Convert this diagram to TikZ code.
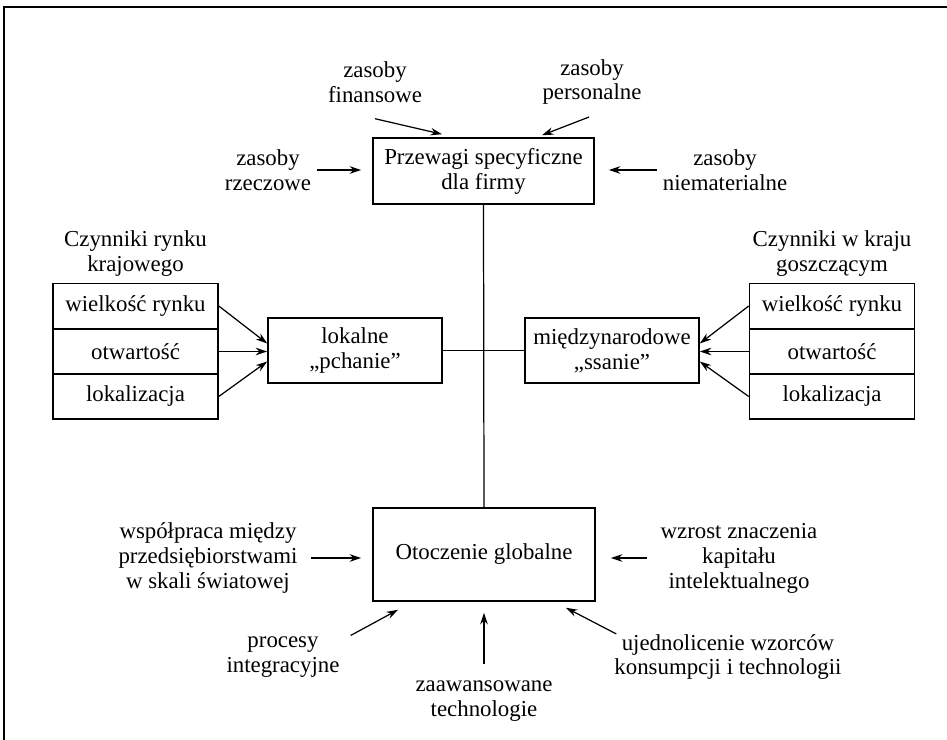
\documentclass[tikz,border=0pt]{standalone}
\usepackage{fontspec}
\setmainfont{Liberation Serif}
\usepackage{tikz}
\usetikzlibrary{arrows.meta}

\begin{document}
\begin{tikzpicture}[x=0.02cm,y=-0.02cm,
      box/.style={rectangle,draw,line width=0.9pt,fill=white,
                  minimum width=4.42cm,minimum height=1.32cm,
                  inner sep=2pt,align=center},
      cell/.style={rectangle,draw,line width=0.9pt,fill=white,
                   minimum width=3.3cm,minimum height=0.906cm,inner sep=0pt},
      lbl/.style={align=center},
      arr/.style={-{Stealth[length=2.3mm,width=1.5mm]},line width=0.7pt},
      every node/.style={font=\fontsize{13}{14.2}\selectfont}]
    \useasboundingbox (0,0) rectangle (947,740);
    %% ── Frame ───────────────────────────────────────────────
    \draw[line width=0.7pt] (4,740) -- (4,7) -- (947,7);
    %% ── Main boxes ──────────────────────────────────────────
    \node[box]  (firm) at (483.5,171) {Przewagi specyficzne\\dla firmy};
    \node[box,minimum width=3.48cm,minimum height=1.3cm]
                (push) at (355,350.5) {lokalne\\,,pchanie''};
    \node[box,minimum width=3.48cm,minimum height=1.3cm]
                (pull) at (612,350.5) {międzynarodowe\\,,ssanie''};
    \node[box,minimum width=4.44cm,minimum height=1.86cm]
                (glob) at (484,554.5) {Otoczenie globalne};
    %% ── Axes ────────────────────────────────────────────────
    \draw[line width=0.7pt] (firm.south) -- (glob.north);
    \draw[line width=0.7pt] (push.east) -- (pull.west);
    %% ── Left stack ──────────────────────────────────────────
    \node[lbl]  (home) at (135.5,254) {Czynniki rynku\\krajowego};
    \node[cell] (hsize) at (135.5,306)   {wielkość rynku};
    \node[cell] (hopen) at (135.5,351.5) {otwartość};
    \node[cell] (hloc)  at (135.5,396.5) {lokalizacja};
    \draw[arr] (hsize.east) -- ([yshift=0.14cm]push.west);
    \draw[arr] (hopen.east) -- (push.west |- hopen.east);
    \draw[arr] (hloc.east)  -- ([yshift=-0.22cm]push.west);
    %% ── Right stack ─────────────────────────────────────────
    \node[lbl]  (host) at (832,254) {Czynniki w kraju\\goszczącym};
    \node[cell] (gsize) at (832,306)   {wielkość rynku};
    \node[cell] (gopen) at (832,351.5) {otwartość};
    \node[cell] (gloc)  at (832,396.5) {lokalizacja};
    \draw[arr] (gsize.west) -- ([yshift=0.14cm]pull.east);
    \draw[arr] (gopen.west) -- (pull.east |- gopen.west);
    \draw[arr] (gloc.west)  -- ([yshift=-0.22cm]pull.east);
    %% ── Resources ───────────────────────────────────────────
    \node[lbl] (fin)   at (375,82)  {zasoby\\finansowe};
    \node[lbl] (pers)  at (592,82)  {zasoby\\personalne};
    \node[lbl] (thing) at (268,170) {zasoby\\rzeczowe};
    \node[lbl] (immat) at (725,170) {zasoby\\niematerialne};
    \draw[arr] ([yshift=-0.2cm]fin.south) -- ([xshift=-0.83cm,yshift=0.06cm]firm.north);
    \draw[arr] ([xshift=-0.06cm,yshift=-0.12cm]pers.south) -- ([xshift=1.17cm,yshift=0.04cm]firm.north);
    \draw[arr] (thing.east) -- ([xshift=-0.22cm]firm.west |- thing.east);
    \draw[arr] (immat.west) -- ([xshift=0.28cm]firm.east |- immat.west);
    %% ── Global environment ──────────────────────────────────
    \node[lbl] (coop)  at (208,558) {współpraca między\\przedsiębiorstwami\\w skali światowej};
    \node[lbl] (intel) at (739,558) {wzrost znaczenia\\kapitału\\intelektualnego};
    \node[lbl] (integ) at (283,657) {procesy\\integracyjne};
    \node[lbl] (tech)  at (484,701) {zaawansowane\\technologie};
    \node[lbl] (unif)  at (728,657) {ujednolicenie wzorców\\konsumpcji i technologii};
    \draw[arr] ([xshift=0.15cm]coop.east) -- ([xshift=-0.22cm]glob.west |- coop.east);
    \draw[arr] ([xshift=-0.15cm]intel.west) -- ([xshift=0.3cm]glob.east |- intel.west);
    \draw[arr] ([xshift=0.1cm,yshift=-0.1cm]integ.north east) -- ([xshift=-1.72cm,yshift=-0.16cm]glob.south);
    \draw[arr] ([yshift=0.2cm]tech.north) -- ([yshift=-0.22cm]glob.south);
    \draw[arr] ([xshift=0.16cm,yshift=-0.12cm]unif.north west) -- ([xshift=1.64cm,yshift=-0.12cm]glob.south);
  \end{tikzpicture}
\end{document}
